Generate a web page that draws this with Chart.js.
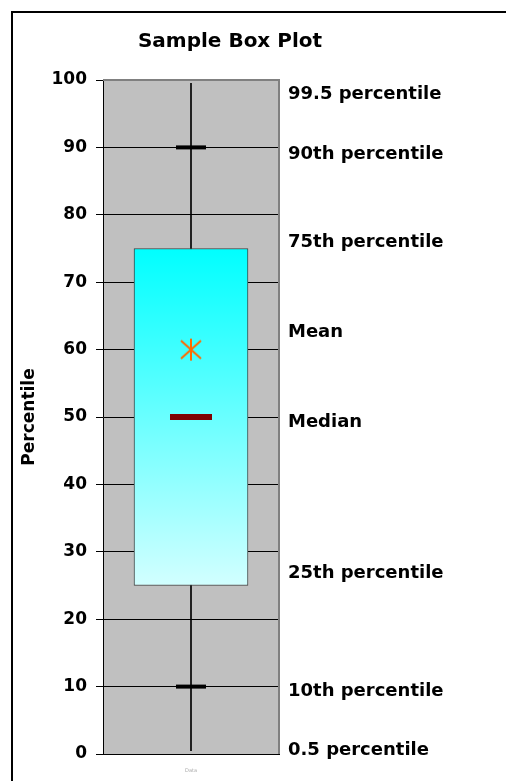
<!DOCTYPE html>
<html>
<head>
<meta charset="utf-8">
<script src="https://cdn.jsdelivr.net/npm/chart.js@4"></script>
<style>
  html, body { margin: 0; padding: 0; background: #fff; }
  #wrap { width: 506px; height: 781px; }
</style>
</head>
<body>
<div id="wrap"><canvas id="chart" width="506" height="781"></canvas></div>
<script>
// data
const categories = ["Data"];
const boxRange = [25, 75];        // 25th .. 75th percentile
const whiskerRange = [0.5, 99.5]; // 0.5 .. 99.5 percentile
const medianValues = [50];
const meanValues = [60];
const p90Values = [90];
const p10Values = [10];
const statValues = [99.5, 90, 75, 60, 50, 25, 10, 0.5];
const statLabels = ["99.5 percentile", "90th percentile", "75th percentile", "Mean", "Median", "25th percentile", "10th percentile", "0.5 percentile"];

const FONT = "'DejaVu Sans', sans-serif";

// asterisk marker for the mean (vertical bar + X)
function makeStar() {
  const c = document.createElement("canvas");
  c.width = 24; c.height = 24;
  const g = c.getContext("2d");
  g.strokeStyle = "#ff6a00";
  g.lineWidth = 2;
  g.beginPath();
  g.moveTo(12, 1); g.lineTo(12, 23);
  g.moveTo(2, 3); g.lineTo(22, 21);
  g.moveTo(22, 3); g.lineTo(2, 21);
  g.stroke();
  return c;
}

// label text sits a little off its value, as in the picture
const labelNudge = [11, 7, -6, -17, 5, -12, 5, 0];

const frame = {
  id: "frame",
  beforeDraw(chart) {
    const { ctx, chartArea: a } = chart;
    ctx.save();
    ctx.fillStyle = "#c0c0c0";
    ctx.fillRect(a.left, a.top, a.right - a.left, a.bottom - a.top);
    ctx.strokeStyle = "#000";
    ctx.lineWidth = 2;
    ctx.strokeRect(12, 12, 600, 800);
    ctx.restore();
  },
  afterDraw(chart) {
    const { ctx, chartArea: a, scales } = chart;
    ctx.save();
    ctx.strokeStyle = "#808080";
    ctx.lineWidth = 2;
    ctx.beginPath();
    ctx.moveTo(a.left, a.top);
    ctx.lineTo(a.right, a.top);
    ctx.lineTo(a.right, a.bottom);
    ctx.stroke();

    ctx.fillStyle = "#000";
    ctx.font = "bold 20px " + FONT;
    ctx.textAlign = "center";
    ctx.textBaseline = "middle";
    ctx.fillText("Sample Box Plot", 230, 42);

    ctx.font = "bold 18px " + FONT;
    ctx.textAlign = "left";
    statLabels.forEach((t, i) => {
      ctx.fillText(t, a.right + 9, scales.y.getPixelForValue(statValues[i]) + labelNudge[i]);
    });
    ctx.restore();
  }
};

new Chart(document.getElementById("chart"), {
  type: "bar",
  data: {
    labels: categories,
    datasets: [
      {
        type: "line", label: "Mean", data: meanValues, showLine: false,
        pointStyle: makeStar(), order: 0
      },
      {
        type: "line", label: "Median", data: medianValues, showLine: false,
        pointStyle: "line", pointRadius: 21, pointBorderWidth: 6,
        pointBorderColor: "#800000", order: 1
      },
      {
        type: "line", label: "90th", data: p90Values, showLine: false,
        pointStyle: "line", pointRadius: 15, pointBorderWidth: 4,
        pointBorderColor: "#000", order: 2
      },
      {
        type: "line", label: "10th", data: p10Values, showLine: false,
        pointStyle: "line", pointRadius: 15, pointBorderWidth: 4,
        pointBorderColor: "#000", order: 3
      },
      {
        label: "Box", data: [boxRange], grouped: false, barThickness: 114,
        borderWidth: 1, borderColor: "#404040", borderSkipped: false, order: 4,
        backgroundColor(c) {
          const chart = c.chart;
          if (!chart.chartArea) return "#00ffff";
          const y = chart.scales.y;
          const g = chart.ctx.createLinearGradient(0, y.getPixelForValue(boxRange[1]), 0, y.getPixelForValue(boxRange[0]));
          g.addColorStop(0, "#00ffff");
          g.addColorStop(1, "#d2ffff");
          return g;
        }
      },
      {
        label: "Whisker", data: [whiskerRange], grouped: false, barThickness: 1,
        backgroundColor: "#000", borderWidth: 0, order: 5
      }
    ]
  },
  options: {
    responsive: false,
    animation: false,
    layout: { padding: { top: 80, right: 227, left: 0, bottom: 0 } },
    plugins: { legend: { display: false }, tooltip: { enabled: false }, title: { display: false } },
    scales: {
      x: {
        offset: true,
        grid: { display: false },
        border: { display: true, color: "#000", width: 1 },
        ticks: { color: "#aaa", font: { family: FONT, size: 5 }, padding: 6 },
        afterFit(s) { s.height = 25; }
      },
      y: {
        min: 0, max: 100,
        ticks: { stepSize: 10, color: "#000", padding: 9, font: { family: FONT, size: 17, weight: "bold" } },
        grid: {
          color: c => (c.tick && c.tick.value === 100) ? "#808080" : "#000",
          tickColor: "#000", tickLength: 7, lineWidth: 1
        },
        border: { color: "#000", width: 1 },
        title: { display: true, text: "Percentile", color: "#000", padding: { top: 19, bottom: 0 }, font: { family: FONT, size: 17, weight: "bold" } },
        afterFit(s) { s.width = 103; }
      }
    }
  },
  plugins: [frame]
});
</script>
</body>
</html>
